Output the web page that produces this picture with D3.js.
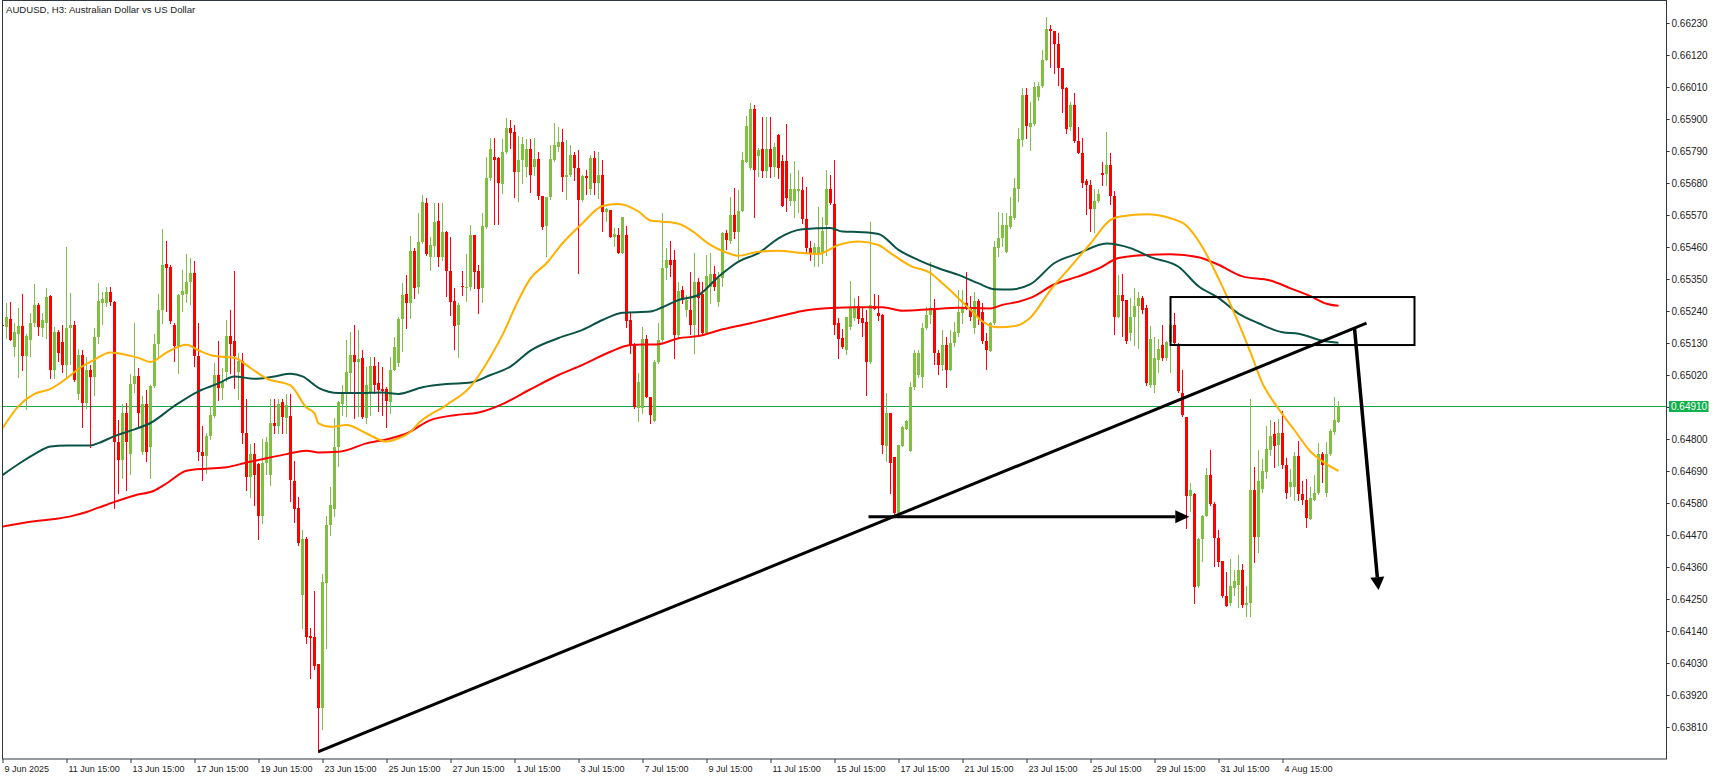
<!DOCTYPE html>
<html><head><meta charset="utf-8">
<script src="https://cdn.jsdelivr.net/npm/d3@7"></script>
<style>html,body{margin:0;padding:0;background:#fff;overflow:hidden}svg{display:block}</style>
</head><body><svg id="c" width="1719" height="780"></svg>
<script>
const title = "AUDUSD, H3:  Australian Dollar vs US Dollar";
const yTicks = [0.66230,0.66120,0.66010,0.65900,0.65790,0.65680,0.65570,0.65460,0.65350,0.65240,0.65130,0.65020,0.64910,0.64800,0.64690,0.64580,0.64470,0.64360,0.64250,0.64140,0.64030,0.63920,0.63810];
const xTickIdx = [0,16,32,48,64,80,96,112,128,144,160,176,192,208,224,240,256,272,288,304,320];
const xTickLabels = ["9 Jun 2025","11 Jun 15:00","13 Jun 15:00","17 Jun 15:00","19 Jun 15:00","23 Jun 15:00","25 Jun 15:00","27 Jun 15:00","1 Jul 15:00","3 Jul 15:00","7 Jul 15:00","9 Jul 15:00","11 Jul 15:00","15 Jul 15:00","17 Jul 15:00","21 Jul 15:00","23 Jul 15:00","25 Jul 15:00","29 Jul 15:00","31 Jul 15:00","4 Aug 15:00"];
const lastPrice = 0.64910;
// candles: [open, high, low, close], one per H3 bar starting 9 Jun 15:00
const candles = [
[.65192,.65195,.65185,.65188],[.65186,.65268,.65145,.65218],[.65214,.65271,.65137,.65141],[.65115,.65198,.65082,.65168],[.65160,.65250,.65012,.65188],
[.65188,.65299,.65037,.65085],[.65085,.65162,.64902,.65154],[.65142,.65233,.65085,.65198],[.65198,.65333,.65186,.65259],[.65259,.65269,.65155,.65186],
[.65183,.65233,.65151,.65209],[.65200,.65320,.65145,.65288],[.65292,.65295,.65009,.65038],[.65038,.65186,.65007,.65168],[.65168,.65176,.65065,.65097],
[.65133,.65192,.65028,.65055],[.65055,.65460,.65009,.65183],[.65183,.65302,.65055,.65192],[.65192,.65204,.64997,.65003],[.64955,.65110,.64937,.65089],
[.65089,.65106,.64838,.64924],[.64924,.65083,.64904,.65036],[.65036,.65055,.64771,.65013],[.65013,.65180,.64949,.65151],[.65151,.65336,.65127,.65273],
[.65269,.65306,.65192,.65281],[.65269,.65322,.65257,.65306],[.65306,.65322,.65259,.65271],[.65272,.65274,.64560,.64790],[.64790,.64866,.64612,.64728],
[.64727,.64920,.64664,.64890],[.64890,.64925,.64623,.64790],[.64750,.65023,.64677,.64990],[.64990,.65198,.64961,.65015],[.65018,.65044,.64843,.64890],
[.64757,.64949,.64748,.64920],[.64920,.64967,.64724,.64754],[.64774,.64986,.64664,.64982],[.64982,.65162,.64976,.65127],[.65127,.65298,.65083,.65244],
[.65244,.65521,.65198,.65399],[.65401,.65482,.65239,.65389],[.65392,.65399,.65198,.65204],[.65192,.65198,.65068,.65121],[.65121,.65298,.65026,.65295],
[.65295,.65381,.65239,.65310],[.65298,.65437,.65269,.65340],[.65338,.65423,.65263,.65370],[.65370,.65411,.65050,.65085],[.65085,.65198,.64726,.64757],
[.64757,.64843,.64659,.64741],[.64741,.64819,.64683,.64809],[.64809,.64913,.64800,.64884],[.64880,.65062,.64875,.65020],[.65020,.65137,.64931,.64976],
[.64976,.65044,.64937,.64997],[.65032,.65209,.64997,.65153],[.65153,.65243,.65026,.65127],[.65137,.65377,.64972,.65085],[.65032,.65097,.64937,.65068],
[.65068,.65097,.64783,.64819],[.64821,.64937,.64623,.64671],[.64671,.64783,.64600,.64748],[.64748,.64786,.64570,.64677],[.64713,.64719,.64454,.64534],
[.64534,.64800,.64511,.64719],[.64719,.64806,.64677,.64789],[.64677,.64937,.64641,.64854],[.64854,.64937,.64819,.64845],[.64843,.64937,.64819,.64920],
[.64928,.64937,.64819,.64875],[.64872,.64955,.64819,.64916],[.64880,.64955,.64584,.64659],[.64656,.64724,.64513,.64560],[.64564,.64600,.64435,.64442],
[.64264,.64487,.64150,.64457],[.64457,.64464,.64097,.64120],[.64122,.64150,.63978,.64118],[.64120,.64276,.64008,.64020],[.64026,.64028,.63724,.63874],
[.63874,.64336,.63801,.64310],[.64304,.64534,.64079,.64505],[.64505,.64635,.64470,.64572],[.64558,.64872,.64534,.64771],[.64771,.64931,.64707,.64928],
[.64920,.64986,.64882,.64959],[.64959,.65140,.64877,.65032],[.65026,.65169,.64958,.65089],[.65089,.65192,.64871,.65066],[.65066,.65175,.64877,.65074],
[.65078,.65106,.64871,.64875],[.64871,.65049,.64854,.64986],[.64958,.65083,.64882,.65051],[.65051,.65083,.64958,.64986],[.64994,.65066,.64894,.64969],
[.64973,.65049,.64882,.64966],[.64973,.64980,.64840,.64931],[.64928,.65083,.64888,.65037],[.65037,.65150,.65034,.65115],[.65060,.65221,.65048,.65212],
[.65212,.65335,.65101,.65295],[.65298,.65363,.65181,.65269],[.65269,.65498,.65215,.65447],[.65447,.65456,.65284,.65318],[.65324,.65576,.65301,.65478],
[.65478,.65638,.65473,.65615],[.65612,.65627,.65432,.65436],[.65427,.65496,.65379,.65467],[.65465,.65612,.65427,.65547],[.65550,.65612,.65393,.65425],
[.65425,.65612,.65415,.65512],[.65512,.65516,.65290,.65379],[.65379,.65496,.65226,.65272],[.65274,.65318,.65106,.65188],[.65192,.65267,.65080,.65261],
[.65326,.65379,.65295,.65322],[.65318,.65436,.65272,.65324],[.65324,.65534,.65312,.65500],[.65500,.65500,.65318,.65375],[.65377,.65398,.65232,.65315],
[.65318,.65576,.65269,.65532],[.65530,.65770,.65524,.65696],[.65696,.65834,.65690,.65796],[.65768,.65834,.65539,.65759],[.65765,.65770,.65539,.65679],
[.65675,.65830,.65644,.65787],[.65787,.65902,.65782,.65868],[.65868,.65897,.65799,.65853],[.65854,.65879,.65631,.65719],[.65719,.65842,.65615,.65759],
[.65759,.65839,.65679,.65814],[.65736,.65830,.65704,.65796],[.65796,.65830,.65647,.65707],[.65736,.65834,.65707,.65762],[.65762,.65787,.65622,.65635],
[.65635,.65635,.65521,.65530],[.65533,.65631,.65429,.65631],[.65631,.65811,.65624,.65762],[.65759,.65887,.65753,.65811],[.65805,.65873,.65787,.65822],
[.65820,.65864,.65650,.65701],[.65701,.65828,.65624,.65707],[.65707,.65811,.65704,.65776],[.65776,.65787,.65690,.65730],[.65730,.65793,.65370,.65622],
[.65622,.65707,.65615,.65704],[.65704,.65725,.65639,.65696],[.65658,.65776,.65639,.65765],[.65765,.65791,.65641,.65681],[.65681,.65787,.65627,.65707],
[.65707,.65759,.65512,.65581],[.65581,.65593,.65547,.65590],[.65587,.65587,.65493,.65496],[.65496,.65524,.65461,.65505],[.65501,.65524,.65436,.65438],
[.65438,.65562,.65436,.65562],[.65501,.65533,.65184,.65207],[.65209,.65232,.65095,.65123],[.65123,.65129,.64905,.64911],[.64905,.65026,.64859,.64997],
[.64905,.65186,.64888,.65144],[.65144,.65159,.64942,.64945],[.64945,.64945,.64854,.64882],[.64863,.65072,.64859,.65066],[.65066,.65198,.65060,.65140],
[.65140,.65577,.65134,.65387],[.65387,.65456,.65347,.65414],[.65414,.65479,.65359,.65399],[.65414,.65450,.65077,.65158],[.65158,.65340,.65147,.65309],
[.65311,.65325,.65267,.65278],[.65244,.65295,.65221,.65278],[.65244,.65375,.65158,.65192],[.65192,.65440,.65095,.65341],[.65341,.65353,.65158,.65283],
[.65300,.65341,.65158,.65163],[.65163,.65432,.65158,.65360],[.65324,.65438,.65267,.65366],[.65366,.65395,.65312,.65324],[.65270,.65375,.65255,.65353],
[.65353,.65512,.65324,.65507],[.65507,.65518,.65452,.65484],[.65482,.65633,.65473,.65570],[.65570,.65662,.65490,.65512],[.65512,.65656,.65418,.65585],
[.65585,.65787,.65581,.65759],[.65753,.65910,.65750,.65876],[.65730,.65954,.65727,.65933],[.65933,.65948,.65562,.65725],[.65773,.65799,.65701,.65794],
[.65796,.65908,.65699,.65722],[.65722,.65908,.65699,.65796],[.65796,.65908,.65699,.65734],[.65736,.65817,.65701,.65805],[.65845,.65850,.65696,.65730],
[.65757,.65776,.65598,.65600],[.65757,.65883,.65582,.65627],[.65617,.65715,.65601,.65659],[.65617,.65757,.65563,.65659],[.65656,.65725,.65577,.65659],
[.65656,.65701,.65542,.65556],[.65556,.65665,.65438,.65456],[.65456,.65479,.65412,.65438],[.65438,.65473,.65393,.65461],[.65432,.65599,.65393,.65461],
[.65438,.65564,.65404,.65516],[.65536,.65725,.65432,.65659],[.65659,.65707,.65605,.65610],[.65608,.65759,.65158,.65192],[.65198,.65215,.65077,.65143],
[.65146,.65177,.65112,.65115],[.65106,.65221,.65092,.65221],[.65186,.65344,.65175,.65255],[.65215,.65284,.65209,.65257],[.65257,.65290,.65198,.65212],
[.65217,.65255,.65154,.65200],[.65203,.65244,.64951,.65066],[.65066,.65547,.65060,.65261],[.65257,.65298,.65244,.65246],[.65234,.65295,.65209,.65223],
[.65226,.65230,.64751,.64779],[.64776,.64957,.64722,.64890],[.64890,.64890,.64613,.64716],[.64739,.64739,.64539,.64545],[.64545,.64779,.64533,.64779],
[.64776,.64844,.64773,.64842],[.64836,.64865,.64831,.64862],[.64760,.64997,.64756,.64980],[.64978,.65106,.64969,.65097],[.65020,.65106,.65012,.65097],
[.65014,.65198,.64976,.65181],[.65181,.65255,.65177,.65226],[.65226,.65409,.65198,.65249],[.65249,.65280,.65055,.65095],[.65095,.65106,.65022,.65055],
[.65055,.65175,.65037,.65123],[.65123,.65151,.64976,.65037],[.65037,.65175,.65034,.65129],[.65129,.65203,.65117,.65169],[.65165,.65312,.65151,.65238],
[.65234,.65312,.65198,.65255],[.65267,.65375,.65244,.65249],[.65255,.65292,.65209,.65221],[.65181,.65307,.65164,.65274],[.65274,.65280,.65192,.65216],
[.65237,.65267,.65128,.65137],[.65137,.65163,.65040,.65106],[.65104,.65203,.65100,.65198],[.65198,.65479,.65192,.65461],[.65456,.65582,.65427,.65490],
[.65490,.65576,.65461,.65536],[.65443,.65577,.65441,.65536],[.65530,.65633,.65524,.65567],[.65561,.65696,.65555,.65662],[.65659,.65868,.65615,.65830],
[.65827,.66007,.65806,.65983],[.65983,.66007,.65833,.65876],[.65873,.65960,.65793,.65887],[.65884,.66027,.65879,.66010],[.65974,.66027,.65964,.66014],
[.66014,.66138,.66007,.66103],[.66103,.66251,.66101,.66210],[.66208,.66224,.66077,.66201],[.66201,.66201,.66058,.66157],[.66157,.66195,.66014,.66074],
[.66074,.66074,.65924,.66004],[.66007,.66010,.65850,.65867],[.65873,.65960,.65860,.65947],[.65949,.65991,.65820,.65823],[.65823,.65873,.65780,.65783],
[.65783,.65836,.65666,.65679],[.65686,.65693,.65573,.65673],[.65673,.65689,.65512,.65590],[.65590,.65659,.65510,.65619],[.65617,.65659,.65613,.65643],
[.65713,.65751,.65673,.65708],[.65710,.65857,.65673,.65742],[.65742,.65783,.65606,.65635],[.65635,.65651,.65158,.65221],[.65221,.65365,.65218,.65295],
[.65295,.65368,.65151,.65274],[.65278,.65278,.65127,.65137],[.65164,.65285,.65137,.65218],[.65218,.65318,.65123,.65256],[.65256,.65305,.65112,.65285],
[.65285,.65292,.65232,.65245],[.65252,.65259,.64984,.64991],[.64984,.65188,.64977,.65145],[.64984,.65151,.64961,.65077],[.65073,.65145,.65030,.65111],
[.65124,.65191,.65071,.65077],[.65077,.65137,.65071,.65135],[.65135,.65194,.65028,.65191],[.65191,.65232,.65122,.65131],[.65127,.65131,.64961,.64964],
[.64957,.65037,.64877,.64884],[.64877,.64877,.64493,.64604],[.64604,.64650,.64550,.64624],[.64610,.64616,.64235,.64290],[.64293,.64458,.64290,.64455],
[.64455,.64539,.64378,.64536],[.64536,.64699,.64533,.64676],[.64676,.64763,.64573,.64576],[.64576,.64583,.64362,.64459],[.64459,.64486,.64362,.64376],
[.64379,.64379,.64255,.64262],[.64262,.64342,.64224,.64226],[.64235,.64389,.64229,.64295],[.64289,.64349,.64262,.64311],[.64298,.64402,.64222,.64349],
[.64349,.64369,.64222,.64229],[.64231,.64295,.64191,.64235],[.64235,.64937,.64191,.64624],[.64624,.64704,.64376,.64463],[.64463,.64763,.64410,.64656],
[.64627,.64730,.64616,.64690],[.64686,.64843,.64663,.64766],[.64763,.64864,.64743,.64810],[.64817,.64857,.64703,.64777],[.64780,.64868,.64710,.64820],
[.64820,.64897,.64697,.64710],[.64710,.64736,.64596,.64616],[.64636,.64697,.64602,.64653],[.64636,.64757,.64589,.64743],[.64743,.64793,.64589,.64610],
[.64610,.64657,.64576,.64592],[.64592,.64663,.64497,.64529],[.64525,.64636,.64523,.64596],[.64592,.64676,.64589,.64616],[.64616,.64787,.64610,.64750],
[.64750,.64757,.64650,.64710],[.64616,.64790,.64603,.64750],[.64747,.64833,.64743,.64827],[.64823,.64944,.64817,.64864],[.64860,.64931,.64857,.64910]
];
// moving averages: [bar index, value]
const maFast = [[0,.64837],[4,.64913],[8,.64955],[12,.64972],[16,.65008],[19,.65041],[23,.65073],[27,.65097],[31,.65089],[34,.65079],[37,.65065],[41,.65097],[46,.65124],[49,.65105],[53,.65085],[58,.65079],[62,.65044],[66,.65008],[72,.64984],[76,.64908],[78,.64888],[79,.64854],[82,.64842],[86,.64848],[91,.64819],[96,.64791],[99,.64802],[102,.64825],[104,.64854],[111,.64917],[117,.64980],[122,.65083],[125,.65158],[129,.65278],[132,.65352],[136,.65404],[140,.65473],[145,.65542],[150,.65601],[154,.65608],[159,.65582],[162,.65551],[165,.65547],[169,.65540],[172,.65519],[177,.65467],[182,.65436],[184,.65430],[189,.65444],[194,.65447],[200,.65439],[204,.65436],[209,.65467],[214,.65479],[219,.65467],[222,.65439],[227,.65395],[232,.65370],[235,.65335],[239,.65284],[242,.65244],[245,.65204],[249,.65184],[253,.65188],[257,.65218],[262,.65312],[267,.65392],[272,.65472],[277,.65553],[280,.65566],[286,.65573],[292,.65559],[296,.65533],[300,.65459],[304,.65352],[308,.65231],[312,.65098],[315,.64991],[319,.64904],[323,.64830],[327,.64757],[330,.64723],[334,.64690]];
const maMid = [[0,.64676],[4,.64714],[8,.64748],[12,.64774],[16,.64778],[22,.64778],[24,.64786],[28,.64810],[33,.64833],[37,.64855],[43,.64914],[49,.64964],[54,.64991],[58,.65015],[63,.65007],[68,.65015],[72,.65024],[75,.65015],[79,.64976],[84,.64958],[89,.64958],[95,.64960],[99,.64955],[105,.64978],[111,.64989],[117,.64994],[122,.65020],[127,.65049],[132,.65104],[139,.65147],[145,.65175],[150,.65209],[155,.65234],[162,.65238],[165,.65253],[169,.65278],[174,.65295],[179,.65358],[184,.65410],[189,.65439],[194,.65490],[200,.65521],[207,.65525],[210,.65513],[215,.65511],[219,.65505],[224,.65450],[229,.65415],[234,.65387],[239,.65364],[244,.65335],[248,.65315],[252,.65314],[257,.65332],[263,.65405],[269,.65438],[276,.65472],[282,.65456],[287,.65425],[294,.65392],[299,.65325],[304,.65285],[309,.65231],[314,.65198],[320,.65167],[324,.65162],[330,.65138],[334,.65131]];
const maSlow = [[0,.64499],[8,.64517],[13,.64525],[17,.64534],[21,.64549],[24,.64564],[28,.64584],[33,.64606],[38,.64623],[41,.64647],[46,.64691],[51,.64698],[56,.64703],[61,.64719],[66,.64734],[71,.64748],[76,.64760],[79,.64754],[84,.64756],[91,.64785],[97,.64802],[101,.64819],[107,.64865],[113,.64882],[119,.64891],[125,.64920],[132,.64971],[139,.65020],[145,.65055],[152,.65100],[157,.65123],[164,.65126],[169,.65146],[174,.65154],[180,.65177],[187,.65198],[194,.65221],[200,.65240],[207,.65250],[214,.65253],[220,.65253],[225,.65241],[232,.65246],[239,.65251],[247,.65249],[250,.65261],[254,.65272],[257,.65285],[263,.65332],[269,.65359],[274,.65386],[279,.65422],[285,.65432],[292,.65435],[299,.65425],[304,.65399],[310,.65359],[317,.65345],[322,.65318],[327,.65291],[331,.65265],[334,.65258]];
// hand-drawn annotations: [bar index, price]
const trendLine = [[79,.63725],[341,.65198]];
const zoneBox = [[292,.65288],[353,.65123]];
const hArrow = [[216.5,.64533],[296.7,.64533]];
const dArrow = [[338,.65181],[344,.64281]];

const colUp = "#80c040", colDn = "#ff0000";
const svg = d3.select("#c");
const x = d3.scaleLinear().domain([0,416]).range([2.5,1666.5]);
const y = d3.scaleLinear().domain([0.63810,0.66230]).range([727,23]);

svg.append("defs").append("clipPath").attr("id","clip").append("rect")
  .attr("x",3).attr("y",1).attr("width",1663).attr("height",758);
const g = svg.append("g").attr("clip-path","url(#clip)");

// price line
const py = Math.floor(y(lastPrice)) + 0.5;
g.append("line").attr("x1",3).attr("x2",1666).attr("y1",py).attr("y2",py)
  .attr("stroke","#1aa64a").attr("stroke-width",1).attr("shape-rendering","crispEdges");

// candles
const cg = g.append("g").attr("shape-rendering","crispEdges");
candles.forEach((d,i)=>{
  const [o,h,l,c] = d;
  const col = c >= o ? colUp : colDn;
  const cx = x(i);
  cg.append("line").attr("x1",cx).attr("x2",cx).attr("y1",y(h)).attr("y2",y(l)+0.5)
    .attr("stroke",col).attr("stroke-width",1);
  const yt = y(Math.max(o,c)), yb = y(Math.min(o,c));
  cg.append("rect").attr("x",cx-1.5).attr("y",yt).attr("width",3)
    .attr("height",Math.max(1.5,yb-yt)).attr("fill",col);
});

// moving averages
const line = d3.line().x(d=>x(d[0])).y(d=>y(d[1])).curve(d3.curveMonotoneX);
[[maSlow,"#ff0000"],[maMid,"#0b5347"],[maFast,"#ffb000"]].forEach(([data,col])=>{
  g.append("path").attr("d",line(data)).attr("fill","none").attr("stroke",col)
    .attr("stroke-width",2).attr("stroke-linejoin","round");
});

// annotations
const ag = g.append("g");
ag.append("line").attr("x1",x(trendLine[0][0])).attr("y1",y(trendLine[0][1]))
  .attr("x2",x(trendLine[1][0])).attr("y2",y(trendLine[1][1]))
  .attr("stroke","#000").attr("stroke-width",3);
ag.append("rect").attr("x",x(zoneBox[0][0])).attr("y",y(zoneBox[0][1]))
  .attr("width",x(zoneBox[1][0])-x(zoneBox[0][0])).attr("height",y(zoneBox[1][1])-y(zoneBox[0][1]))
  .attr("fill","none").attr("stroke","#000").attr("stroke-width",2);
function arrow(a, w, headLen, headHalf){
  const x1=x(a[0][0]), y1=y(a[0][1]), x2=x(a[1][0]), y2=y(a[1][1]);
  const dx=x2-x1, dy=y2-y1, len=Math.hypot(dx,dy), ux=dx/len, uy=dy/len;
  const bx=x2-ux*headLen, by=y2-uy*headLen;
  ag.append("line").attr("x1",x1).attr("y1",y1).attr("x2",bx).attr("y2",by)
    .attr("stroke","#000").attr("stroke-width",w);
  ag.append("path").attr("d",`M${x2},${y2}L${bx-uy*headHalf},${by+ux*headHalf}L${bx+uy*headHalf},${by-ux*headHalf}Z`)
    .attr("fill","#000");
}
arrow(hArrow,3,14,6.5);
arrow(dArrow,3.5,13,7);

// frame
svg.append("rect").attr("x",2.5).attr("y",0.5).attr("width",1664).attr("height",758.5)
  .attr("fill","none").attr("stroke","#30363e").attr("stroke-width",1);

// y axis
const yAx = svg.append("g").attr("transform","translate(1666.5,0)")
  .call(d3.axisRight(y).tickValues(yTicks).tickSize(3).tickPadding(2).tickFormat(d3.format(".5f")));
yAx.select(".domain").remove();
yAx.selectAll(".tick line").attr("stroke","#30363e");
yAx.selectAll("text").attr("font-family","'Liberation Sans', Arial, sans-serif").attr("font-size","10px").attr("fill","#222");

// x axis
const xAx = svg.append("g").attr("transform","translate(0,759)")
  .call(d3.axisBottom(x).tickValues(xTickIdx).tickSize(4).tickPadding(3).tickFormat((d,i)=>xTickLabels[i]));
xAx.select(".domain").remove();
xAx.selectAll(".tick line").attr("stroke","#30363e");
xAx.selectAll("text").attr("text-anchor","start").attr("x",1.5)
  .attr("font-family","'Liberation Sans', Arial, sans-serif").attr("font-size","9px").attr("fill","#222");

// last price label
svg.append("rect").attr("x",1669).attr("y",py-5.5).attr("width",39.5).attr("height",11).attr("fill","#10b04a");
svg.append("text").attr("x",1671).attr("y",py+3.5).text(d3.format(".5f")(lastPrice))
  .attr("font-family","'Liberation Sans', Arial, sans-serif").attr("font-size","10px").attr("fill","#fff");

// title
svg.append("text").attr("x",6).attr("y",13).text(title)
  .attr("font-family","'Liberation Sans', Arial, sans-serif").attr("font-size","9.6px").attr("fill","#222");
</script></body></html>
